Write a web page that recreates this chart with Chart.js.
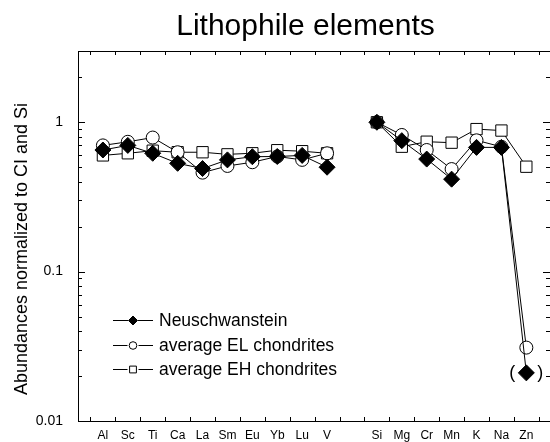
<!DOCTYPE html>
<html><head><meta charset="utf-8">
<script src="https://cdn.jsdelivr.net/npm/chart.js@4/dist/chart.umd.min.js"></script>
<style>html,body{margin:0;padding:0;background:#fff;}canvas{display:block;}</style>
</head><body>
<canvas id="c" width="550" height="442"></canvas>
<script>
// ---- data ----
const categories = ['Al','Sc','Ti','Ca','La','Sm','Eu','Yb','Lu','V','','Si','Mg','Cr','Mn','K','Na','Zn'];
const neuschwanstein = [0.652,0.70,0.62,0.531,0.49,0.56,0.588,0.59,0.60,0.50,null,1.0,0.753,0.567,0.416,0.679,0.679,0.021];
const averageEL      = [0.70,0.74,0.79,0.63,0.46,0.51,0.54,0.59,0.56,0.62,null,1.0,0.822,0.652,0.486,0.757,0.685,0.031];
const averageEH      = [0.60,0.62,0.645,0.63,0.63,0.61,0.62,0.65,0.64,0.62,null,1.0,0.686,0.741,0.73,0.90,0.88,0.504];
const seriesNames = ['Neuschwanstein','average EL chondrites','average EH chondrites'];
const yTickValues = [0.01,0.1,1];
const yTickLabels = ['0.01','0.1','1'];
const titleText = 'Lithophile elements';
const yAxisTitle = 'Abundances normalized to CI and Si';
const bracketedSeries = 0;      // Neuschwanstein
const bracketedCategory = 'Zn'; // value shown in brackets

const FONT = "'Liberation Sans', Arial, Helvetica, sans-serif";
Chart.defaults.font.family = FONT;
Chart.defaults.color = '#000';

const toPoints = arr => arr.map((v,i) => ({x: i+1, y: v}));

const legendStyles = [
  {pointStyle:'rectRot', radius:4.5, fill:'#000', gap:5},
  {pointStyle:'circle', radius:3.8, fill:'#fff', gap:5.5},
  {pointStyle:'rect', radius:4.8, fill:'#fff', gap:5.5}
];

const decor = {
  id: 'decor',
  afterDraw(chart) {
    const {ctx, chartArea: a, scales: {x, y}} = chart;
    ctx.save();
    ctx.strokeStyle = '#000';
    ctx.lineWidth = 1;
    // top frame line
    ctx.beginPath();
    ctx.moveTo(a.left, a.top + 0.5); ctx.lineTo(a.right, a.top + 0.5);
    ctx.stroke();
    // x tick marks (inward), between categories
    ctx.beginPath();
    for (let v = 0.5; v <= x.max; v += 1) {
      const px = Math.round(x.getPixelForValue(v)) + 0.5;
      ctx.moveTo(px, a.bottom); ctx.lineTo(px, a.bottom - 4);
      ctx.moveTo(px, a.top); ctx.lineTo(px, a.top + 4);
    }
    // y tick marks (inward), log major/minor
    for (let e = -2; e <= 0; e++) {
      for (let k = 1; k <= 9; k++) {
        const v = k * Math.pow(10, e);
        if (v < y.min - 1e-9 || v > y.max + 1e-9) continue;
        const py = Math.round(y.getPixelForValue(v)) + 0.5;
        const len = k === 1 ? 7 : 4;
        ctx.moveTo(a.left, py); ctx.lineTo(a.left + len, py);
        ctx.moveTo(a.right, py); ctx.lineTo(a.right - len, py);
      }
    }
    ctx.stroke();

    // title
    ctx.fillStyle = '#000';
    ctx.font = '30px ' + FONT;
    ctx.textAlign = 'center';
    ctx.textBaseline = 'alphabetic';
    ctx.fillText(titleText, 305.5, 35);

    // y axis title
    ctx.save();
    ctx.translate(27, 249);
    ctx.rotate(-Math.PI / 2);
    ctx.font = '18px ' + FONT;
    ctx.textAlign = 'center';
    ctx.textBaseline = 'alphabetic';
    ctx.fillText(yAxisTitle, 0, 0);
    ctx.restore();

    // legend
    const rows = [320, 345, 369];
    chart.data.datasets.forEach((ds, i) => {
      const ry = rows[i] + 0.5;
      const st = legendStyles[i];
      ctx.beginPath();
      ctx.moveTo(113, ry); ctx.lineTo(133 - st.gap, ry);
      ctx.moveTo(133 + st.gap, ry); ctx.lineTo(153, ry);
      ctx.strokeStyle = '#000'; ctx.lineWidth = 1; ctx.stroke();
      ctx.fillStyle = st.fill; ctx.strokeStyle = '#000';
      Chart.helpers.drawPoint(ctx, {pointStyle: st.pointStyle, radius: st.radius, rotation: 0, borderWidth: 1}, 133, ry);
      ctx.fillStyle = '#000';
      ctx.font = '17.5px ' + FONT;
      ctx.textAlign = 'left';
      ctx.textBaseline = 'alphabetic';
      ctx.fillText(ds.label, 159, rows[i] + 6.3);
    });

    // brackets round the bracketed value
    const meta = chart.getDatasetMeta(bracketedSeries);
    const el = meta.data[categories.indexOf(bracketedCategory)];
    if (el) {
      ctx.font = '18px ' + FONT;
      ctx.textAlign = 'center';
      ctx.textBaseline = 'middle';
      ctx.fillText('(', el.x - 14, el.y);
      ctx.fillText(')', el.x + 14, el.y);
    }
    ctx.restore();
  }
};

new Chart(document.getElementById('c'), {
  type: 'line',
  data: {
    datasets: [
      {label: seriesNames[0], data: toPoints(neuschwanstein), borderColor:'#000', borderWidth:1,
       pointStyle:'rectRot', pointRadius:8, pointBackgroundColor:'#000', pointBorderColor:'#000', pointBorderWidth:1},
      {label: seriesNames[1], data: toPoints(averageEL), borderColor:'#000', borderWidth:1,
       pointStyle:'circle', pointRadius:6.5, pointBackgroundColor:'#fff', pointBorderColor:'#000', pointBorderWidth:1},
      {label: seriesNames[2], data: toPoints(averageEH), borderColor:'#000', borderWidth:1,
       pointStyle:'rect', pointRadius:8, pointBackgroundColor:'#fff', pointBorderColor:'#000', pointBorderWidth:1}
    ]
  },
  options: {
    responsive: false,
    animation: false,
    spanGaps: false,
    elements: {line: {tension: 0, fill: false}},
    layout: {autoPadding: false, padding: {top: 51, right: 0, bottom: 0, left: 0}},
    plugins: {legend: {display: false}, title: {display: false}, tooltip: {enabled: false}},
    scales: {
      x: {
        type: 'linear', min: 0, max: 18.95,
        grid: {display: false, drawTicks: false},
        border: {display: true, color: '#000', width: 1},
        afterBuildTicks: s => { s.ticks = categories.map((c,i) => ({value: i+1, label: c})).filter(t => t.label !== ''); },
        ticks: {autoSkip: false, maxRotation: 0, padding: 7, font: {size: 12},
                callback: v => categories[v-1]},
        afterFit: s => { s.height = 21; s.paddingLeft = 0; s.paddingRight = 0; }
      },
      y: {
        type: 'logarithmic', min: 0.01, max: 3,
        grid: {display: false, drawTicks: false},
        border: {display: true, color: '#000', width: 1},
        afterBuildTicks: s => { s.ticks = yTickValues.map(v => ({value: v})); },
        ticks: {padding: 15, font: {size: 14},
                callback: v => yTickLabels[yTickValues.indexOf(v)]},
        afterFit: s => { s.width = 78; s.paddingTop = 0; s.paddingBottom = 0; }
      }
    }
  },
  plugins: [decor]
});
</script>
</body></html>
